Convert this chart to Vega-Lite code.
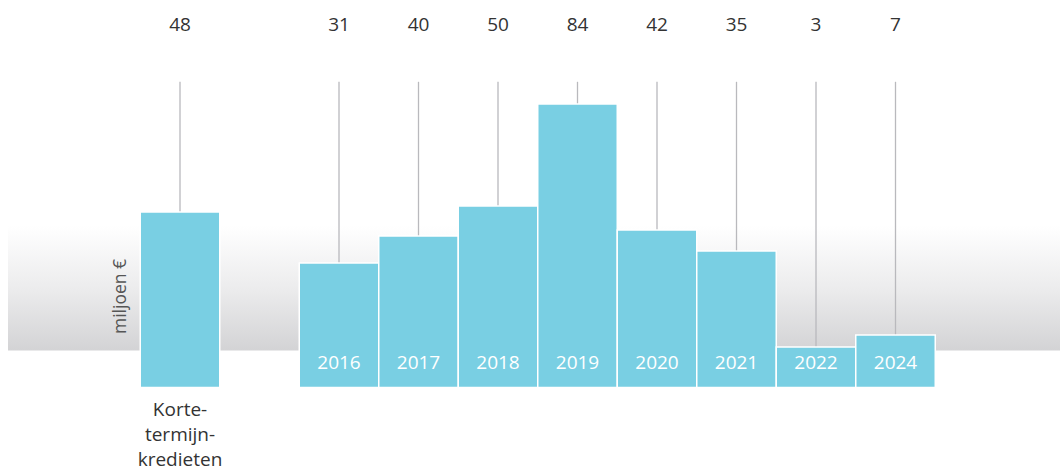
{
  "$schema": "https://vega.github.io/schema/vega-lite/v6.json",
  "width": 1052,
  "height": 473,
  "autosize": {"type": "none"},
  "padding": {"left": 8, "right": 1, "top": 0, "bottom": 0},
  "background": "#ffffff",
  "config": {"view": {"stroke": null}, "font": "Open Sans"},
  "data": {
    "values": [
      {"key": "K", "value": 48, "year": "", "label": "Korte-\ntermijn-\nkredieten"},
      {"key": "2016", "value": 31, "year": "2016", "label": ""},
      {"key": "2017", "value": 40, "year": "2017", "label": ""},
      {"key": "2018", "value": 50, "year": "2018", "label": ""},
      {"key": "2019", "value": 84, "year": "2019", "label": ""},
      {"key": "2020", "value": 42, "year": "2020", "label": ""},
      {"key": "2021", "value": 35, "year": "2021", "label": ""},
      {"key": "2022", "value": 3, "year": "2022", "label": ""},
      {"key": "2024", "value": 7, "year": "2024", "label": ""}
    ]
  },
  "layer": [
    {
      "data": {"values": [{"band": "bg"}]},
      "mark": {
        "type": "rect",
        "color": {
          "gradient": "linear",
          "x1": 0, "y1": 0, "x2": 0, "y2": 1,
          "stops": [
            {"offset": 0, "color": "#ffffff"},
            {"offset": 0.5, "color": "#ececed"},
            {"offset": 1, "color": "#d3d3d5"}
          ]
        }
      },
      "encoding": {
        "y": {
          "datum": 43.5,
          "type": "quantitative",
          "scale": {"domain": [-39, 118.667], "nice": false, "zero": false},
          "axis": {
            "domain": false, "ticks": false, "labels": false, "grid": false,
            "zindex": 1,
            "title": "miljoen €",
            "titleAngle": 270,
            "titleAlign": "center",
            "titleBaseline": "middle",
            "titleX": 112,
            "titleY": 296,
            "titleFont": "Open Sans",
            "titleFontSize": 17.5,
            "titleFontWeight": "normal",
            "titleColor": "#555555"
          }
        },
        "y2": {"datum": 1.8}
      }
    },
    {
      "mark": {"type": "rule", "color": "#b9b9bd", "strokeWidth": 1.3},
      "encoding": {
        "x": {
          "field": "key",
          "type": "nominal",
          "scale": {
            "domain": ["K", "gap", "2016", "2017", "2018", "2019", "2020", "2021", "2022", "2024"],
            "range": [132.25, 927.25],
            "paddingInner": 0,
            "paddingOuter": 0
          },
          "axis": null
        },
        "y": {"field": "value", "type": "quantitative"},
        "y2": {"datum": 91.4}
      }
    },
    {
      "mark": {"type": "bar", "color": "#79cfe3", "stroke": "#ffffff", "strokeWidth": 1.5},
      "encoding": {
        "x": {"field": "key", "type": "nominal"},
        "y": {"field": "value", "type": "quantitative"},
        "y2": {"datum": -10.5}
      }
    },
    {
      "mark": {"type": "text", "fontSize": 19, "color": "#333333", "baseline": "middle"},
      "encoding": {
        "x": {"field": "key", "type": "nominal"},
        "y": {"datum": 110.3, "type": "quantitative"},
        "text": {"field": "value", "type": "quantitative"}
      }
    },
    {
      "transform": [{"filter": "datum.year != ''"}],
      "mark": {"type": "text", "fontSize": 19, "color": "#ffffff", "baseline": "middle"},
      "encoding": {
        "x": {"field": "key", "type": "nominal"},
        "y": {"datum": -2.4, "type": "quantitative"},
        "text": {"field": "year", "type": "nominal"}
      }
    },
    {
      "transform": [{"filter": "datum.label != ''"}],
      "mark": {"type": "text", "fontSize": 19, "color": "#333333", "baseline": "top", "lineBreak": "\n", "lineHeight": 25},
      "encoding": {
        "x": {"field": "key", "type": "nominal"},
        "y": {"datum": -14.9, "type": "quantitative"},
        "text": {"field": "label", "type": "nominal"}
      }
    }
  ]
}
